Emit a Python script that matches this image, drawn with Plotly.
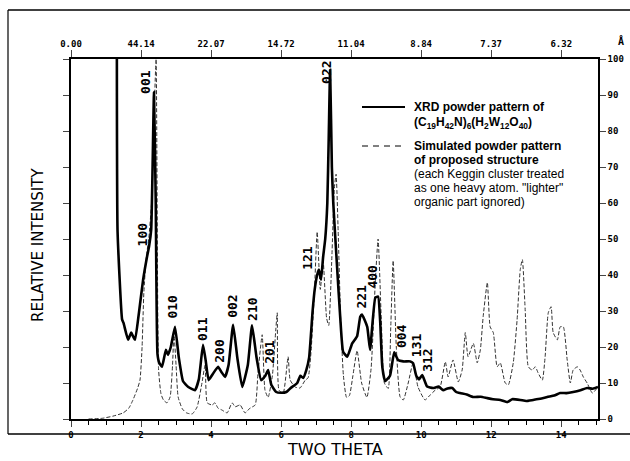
import plotly.graph_objects as go

# ---------------- data ----------------
two_theta_xrd = [1.31, 1.33, 1.46, 1.50, 1.63, 1.72, 1.77, 1.83, 1.94, 2.06, 2.17, 2.23, 2.29,
                 2.33, 2.37, 2.42, 2.47, 2.52, 2.60, 2.71, 2.77, 2.85, 2.97, 3.08, 3.20, 3.35,
                 3.54, 3.65, 3.77, 3.85, 3.93, 4.05, 4.20, 4.30, 4.40, 4.50, 4.63, 4.75, 4.89,
                 5.05, 5.17, 5.30, 5.43, 5.55, 5.63, 5.72, 5.86, 6.00, 6.15, 6.26, 6.46, 6.55,
                 6.63, 6.72, 6.80, 6.90, 6.96, 7.03, 7.08, 7.14, 7.20, 7.26, 7.32, 7.36, 7.40,
                 7.45, 7.49, 7.60, 7.69, 7.77, 7.89, 8.03, 8.17, 8.26, 8.31, 8.46, 8.54, 8.69,
                 8.77, 8.83, 8.89, 8.97, 9.11, 9.23, 9.34, 9.49, 9.69, 9.77, 9.86, 9.94, 10.03,
                 10.17, 10.34, 10.50, 10.63, 10.75, 10.89, 11.00, 11.11, 11.30, 11.49, 11.70,
                 11.89, 12.05, 12.26, 12.46, 12.60, 12.83, 13.00, 13.20, 13.40, 13.60, 13.80,
                 13.97, 14.15, 14.34, 14.55, 14.74, 14.90, 15.05]
intensity_xrd = [100, 52, 27.6, 26.7, 22, 24, 23, 22, 29.5, 38.7, 45, 48, 52.6,
                 70, 90.8, 60, 18, 15.6, 14.5, 19.2, 17.8, 20, 25.6, 17, 10.5, 8.9,
                 8, 11, 20.6, 16, 10.8, 12.5, 14.5, 13, 11.7, 15, 26.2, 17, 8.9,
                 15, 26, 17, 10.8, 12, 13.6, 9.5, 7.5, 7.3, 7.5, 8.5, 10, 12,
                 11.4, 13.6, 17, 30, 36, 40, 41.5, 38.7, 45, 50, 60, 78, 97,
                 70, 60, 42, 28, 18.7, 17.3, 21, 23, 28.4, 29, 25.6, 19.2, 33.7,
                 34, 27, 14.5, 10.5, 12, 18.5, 16.4, 16, 16, 15.5, 12, 11, 12.2,
                 9, 8.6, 9, 8, 8.5, 8.6, 7.5, 7.2, 6.8, 6.1, 6.2,
                 5.8, 5.5, 5.3, 4.7, 5.5, 5.3, 5.0, 5.3, 5.6, 6.1, 6.5,
                 7.2, 7.2, 7.5, 8.0, 8.6, 8.4, 8.9]

two_theta_sim = [0.50, 0.90, 1.20, 1.49, 1.65, 1.77, 1.90, 1.97, 2.03, 2.08, 2.15, 2.22, 2.30,
                 2.36, 2.43, 2.50, 2.57, 2.64, 2.74, 2.83, 2.90, 2.94, 3.00, 3.06, 3.18, 3.30,
                 3.46, 3.60, 3.74, 3.83, 3.89, 4.03, 4.11, 4.20, 4.31, 4.46, 4.60, 4.69, 4.83,
                 4.97, 5.11, 5.26, 5.34, 5.46, 5.54, 5.63, 5.75, 5.85, 5.89, 5.94, 6.06, 6.20,
                 6.26, 6.40, 6.54, 6.69, 6.77, 6.85, 6.95, 7.03, 7.12, 7.20, 7.30, 7.36, 7.45,
                 7.52, 7.57, 7.63, 7.70, 7.78, 7.87, 7.95, 8.05, 8.17, 8.30, 8.45, 8.57, 8.69,
                 8.77, 8.86, 8.95, 9.06, 9.13, 9.20, 9.29, 9.40, 9.49, 9.63, 9.77, 9.91, 10.11,
                 10.26, 10.40, 10.54, 10.69, 10.77, 10.91, 11.06, 11.17, 11.26, 11.34, 11.49,
                 11.60, 11.69, 11.77, 11.89, 11.97, 12.06, 12.17, 12.26, 12.40, 12.49, 12.63,
                 12.74, 12.83, 12.89, 12.97, 13.06, 13.17, 13.26, 13.34, 13.46, 13.54, 13.63,
                 13.71, 13.77, 13.89, 13.97, 14.06, 14.17, 14.26, 14.34, 14.46, 14.54, 14.63,
                 14.74, 14.89, 15.05]
intensity_sim = [0, 0.2, 0.8, 1.7, 3, 5.3, 8.5, 10.8, 20, 35, 45, 50, 60,
                 80, 100, 14, 7, 5.3, 4.5, 6.1, 15, 24, 15, 6.1, 2.8, 1.7,
                 1.4, 3.3, 10, 15, 4.5, 3.9, 4.5, 3.0, 2.5, 1.7, 4.5, 3.4, 3.9,
                 1.7, 3.0, 3.9, 12.8, 23.4, 8, 6, 12, 25, 29.5, 8, 7.2, 17.3,
                 10.8, 8.9, 8.6, 10.8, 11.4, 18, 35, 52, 36, 44, 28, 26, 45,
                 64, 68, 52, 28, 12, 6, 6.5, 12, 19, 10, 6, 14, 38,
                 50, 28, 10, 8.5, 25, 44, 20, 6.1, 5.3, 10, 15.6, 8.9, 5.3,
                 6.7, 8, 8.9, 15.9, 11.7, 16.4, 10.3, 13.6, 24, 17.3, 21,
                 15.6, 19.2, 28.4, 37.9, 25.6, 24, 14.5, 15.6, 10, 9.5, 15.6,
                 27.6, 41.5, 44.3, 30.4, 14.5, 13.6, 14.5, 12.8, 10.8, 17.3, 29.5,
                 31.2, 24, 22, 25.6, 25.6, 16.4, 10, 13.6, 14.5, 13.6, 11.7,
                 10, 7.2, 8.9]

two_theta_ticks = [0, 2, 4, 6, 8, 10, 12, 14]
intensity_ticks = [0, 10, 20, 30, 40, 50, 60, 70, 80, 90, 100]
d_spacing_labels = ["0.00", "44.14", "22.07", "14.72", "11.04", "8.84", "7.37", "6.32"]

hkl_labels = ["100", "001", "010", "011", "200", "002", "210", "201",
              "121", "022", "221", "400", "004", "131", "312"]
hkl_anchor = [(2.03, 51.3), (2.11, 93.6), (2.91, 31.2), (3.74, 25.0), (4.23, 19.0),
              (4.63, 31.2), (5.20, 30.6), (5.66, 18.7), (6.77, 44.8), (7.31, 96.4),
              (8.31, 34.0), (8.60, 39.6), (9.46, 23.1), (9.89, 20.6), (10.20, 16.2)]

# ---------------- figure ----------------
W, H = 630, 461
L, R, T, B = 71, 32, 59, 42
pw, ph = W - L - R, H - T - B


def px(xp):
    return (xp - L) / pw


def py(yp):
    return (H - B - yp) / ph


fig = go.Figure()
fig.add_trace(go.Scatter(x=two_theta_sim, y=intensity_sim, mode="lines",
                         line=dict(color="#333333", width=1, dash="4px,2px",
                                   shape="spline", smoothing=0.5),
                         showlegend=False, hoverinfo="skip"))
fig.add_trace(go.Scatter(x=two_theta_xrd, y=intensity_xrd, mode="lines",
                         line=dict(color="black", width=2.6, shape="spline", smoothing=0.4),
                         showlegend=False, hoverinfo="skip"))
# invisible trace to activate the top d-spacing axis
fig.add_trace(go.Scatter(x=[0, 15.05], y=[0, 0], xaxis="x2", mode="lines",
                         line=dict(width=0), opacity=0, showlegend=False, hoverinfo="skip"))

mono = "DejaVu Sans Mono"
tickfont = dict(family=mono, size=9, color="black", weight="bold")

fig.update_layout(
    width=W, height=H,
    margin=dict(l=L, r=R, t=T, b=B, pad=0, autoexpand=False),
    paper_bgcolor="white", plot_bgcolor="white",
    xaxis=dict(range=[0, 15.05], tickvals=two_theta_ticks, ticks="outside", ticklen=6,
               tickwidth=1.3, showline=True, linecolor="black", linewidth=1.6,
               showgrid=False, zeroline=False, tickfont=tickfont, automargin=False,
               minor=dict(dtick=0.5, ticks="outside", ticklen=4, tickwidth=1.1,
                          tickcolor="black", showgrid=False)),
    xaxis2=dict(range=[0, 15.05], overlaying="x", side="top", anchor="y",
                tickvals=two_theta_ticks, ticktext=d_spacing_labels,
                ticks="outside", ticklen=7, tickwidth=1.3, showline=True,
                linecolor="black", linewidth=1.6, showgrid=False, zeroline=False,
                tickfont=tickfont, automargin=False),
    yaxis=dict(range=[0, 100], side="right", tickvals=intensity_ticks,
               ticks="outside", ticklen=6, tickwidth=1.3, showline=True,
               linecolor="black", linewidth=1.6, mirror="ticks",
               showgrid=False, zeroline=False, tickfont=tickfont, automargin=False),
)

annotations = []
for lab, (xa, ya) in zip(hkl_labels, hkl_anchor):
    annotations.append(dict(x=xa, y=ya, xref="x", yref="y", text=lab, showarrow=False,
                            textangle=-90, font=dict(family=mono, size=13, color="black",
                                                     weight="bold"),
                            xanchor="center", yanchor="middle"))

sans = "Liberation Sans"
legend_x = px(412)
legend_lines = [
    (107, "XRD powder pattern of", "bold"),
    (123, "(C<sub>19</sub>H<sub>42</sub>N)<sub>6</sub>(H<sub>2</sub>W<sub>12</sub>O<sub>40</sub>)", "bold"),
    (146, "Simulated powder pattern", "bold"),
    (160, "of proposed structure", "bold"),
    (174, "(each Keggin cluster treated", "normal"),
    (188, "as one heavy atom. \"lighter\"", "normal"),
    (202, "organic part ignored)", "normal"),
]
for yy, txt, wt in legend_lines:
    annotations.append(dict(x=legend_x, y=py(yy), xref="paper", yref="paper", text=txt,
                            showarrow=False, xanchor="left", yanchor="middle",
                            font=dict(family=sans, size=12, color="black", weight=wt)))

annotations.append(dict(x=px(621), y=py(41), xref="paper", yref="paper", text="Å",
                        showarrow=False, xanchor="center", yanchor="middle",
                        font=dict(family=mono, size=10, color="black", weight="bold")))
annotations.append(dict(x=px(38), y=py(245), xref="paper", yref="paper",
                        text="RELATIVE INTENSITY", textangle=-90, showarrow=False,
                        xanchor="center", yanchor="middle",
                        font=dict(family="DejaVu Sans", size=15, color="black")))
annotations.append(dict(x=px(335), y=py(450), xref="paper", yref="paper",
                        text="TWO THETA", showarrow=False, xanchor="center", yanchor="middle",
                        font=dict(family="DejaVu Sans", size=16, color="black")))
fig.update_layout(annotations=annotations)

shapes = [
    dict(type="line", xref="paper", yref="paper", x0=px(362), x1=px(405),
         y0=py(107), y1=py(107), line=dict(color="black", width=2)),
    dict(type="line", xref="paper", yref="paper", x0=px(362), x1=px(405),
         y0=py(146), y1=py(146), line=dict(color="black", width=1, dash="6px,5px")),
    # scanned frame
    dict(type="line", xref="paper", yref="paper", x0=px(8), x1=px(640),
         y0=py(10), y1=py(10), line=dict(color="black", width=1.5)),
    dict(type="line", xref="paper", yref="paper", x0=px(8), x1=px(640),
         y0=py(434), y1=py(434), line=dict(color="black", width=1.5)),
    dict(type="line", xref="paper", yref="paper", x0=px(8), x1=px(8),
         y0=py(10), y1=py(434), line=dict(color="black", width=1.2)),
]
fig.update_layout(shapes=shapes)

fig.write_html("out.html", config={"displayModeBar": False},
               post_script="document.body.style.margin='0px';"
                           "document.body.style.overflow='hidden';")
